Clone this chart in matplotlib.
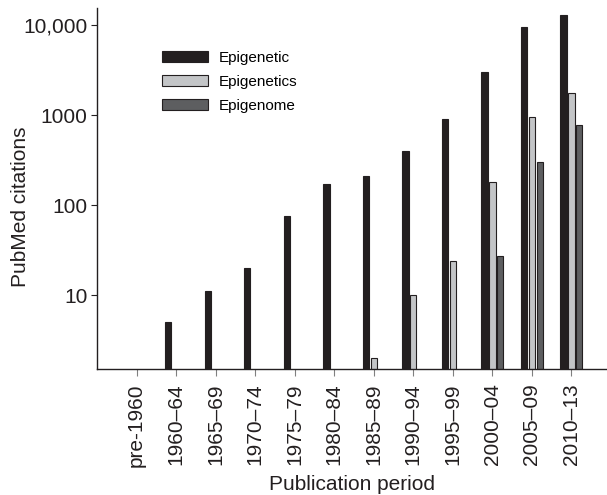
import numpy as np
import matplotlib
matplotlib.use("Agg")
import matplotlib.pyplot as plt
from matplotlib.ticker import FixedLocator, FixedFormatter, NullLocator

plt.rcParams['font.family'] = ['Liberation Sans', 'DejaVu Sans']

periods = ['pre-1960', '1960–64', '1965–69', '1970–74', '1975–79', '1980–84',
           '1985–89', '1990–94', '1995–99', '2000–04', '2005–09', '2010–13']
nan = np.nan
epigenetic = [nan, 5, 11, 20, 75, 170, 210, 400, 900, 3000, 9400, 13000]
epigenetics = [nan, nan, nan, nan, nan, nan, 2, 10, 24, 180, 940, 1750]
epigenome = [nan, nan, nan, nan, nan, nan, nan, nan, nan, 27, 300, 770]
ytick_vals = [10, 100, 1000, 10000]
ytick_labels = ['10', '100', '1000', '10,000']


def main():
    fig = plt.figure(figsize=(6.07, 4.95), dpi=100)
    ax = fig.add_axes([0.160, 0.254, 0.840, 0.729])

    x = np.arange(len(periods))
    w = 0.16
    edge = '#231f20'
    ax.bar(x - 0.2, epigenetic, w, color='#231f20', edgecolor=edge, lw=0.8,
           label='Epigenetic')
    ax.bar(x, epigenetics, w, color='#c3c5c7', edgecolor=edge, lw=0.8,
           label='Epigenetics')
    ax.bar(x + 0.2, epigenome, w, color='#5d5e60', edgecolor=edge, lw=0.8,
           label='Epigenome')

    ax.set_yscale('log')
    ax.set_ylim(1.5, 15300)
    ax.set_xlim(-1.0, 11.9)
    ax.yaxis.set_major_locator(FixedLocator(ytick_vals))
    ax.yaxis.set_major_formatter(FixedFormatter(ytick_labels))
    ax.yaxis.set_minor_locator(NullLocator())

    ax.set_xticks(x)
    ax.set_xticklabels(periods, rotation=90)

    for s in ['top', 'right']:
        ax.spines[s].set_visible(False)
    for s in ['left', 'bottom']:
        ax.spines[s].set_color('#231f20')
        ax.spines[s].set_linewidth(1.0)
    ax.tick_params(axis='both', labelsize=15, colors='#231f20', length=4,
                   width=0.8, pad=3)
    ax.tick_params(axis='x', color='#808080', length=5, pad=5)

    # y label sits a bit below the axes centre in the original
    fig.text(0.034, 0.582, 'PubMed citations', rotation=90, ha='center',
             va='center', fontsize=15, color='#231f20')
    ax.set_xlabel('Publication period', fontsize=15, color='#231f20', labelpad=6)

    ax.legend(loc='upper left', bbox_to_anchor=(0.257, 0.909),
              bbox_transform=fig.transFigure, frameon=False, fontsize=11,
              handlelength=3.0, handleheight=0.72, handletextpad=0.7,
              labelspacing=0.65, borderaxespad=0)

    fig.savefig('out.png', dpi=100)


if __name__ == "__main__":
    main()
